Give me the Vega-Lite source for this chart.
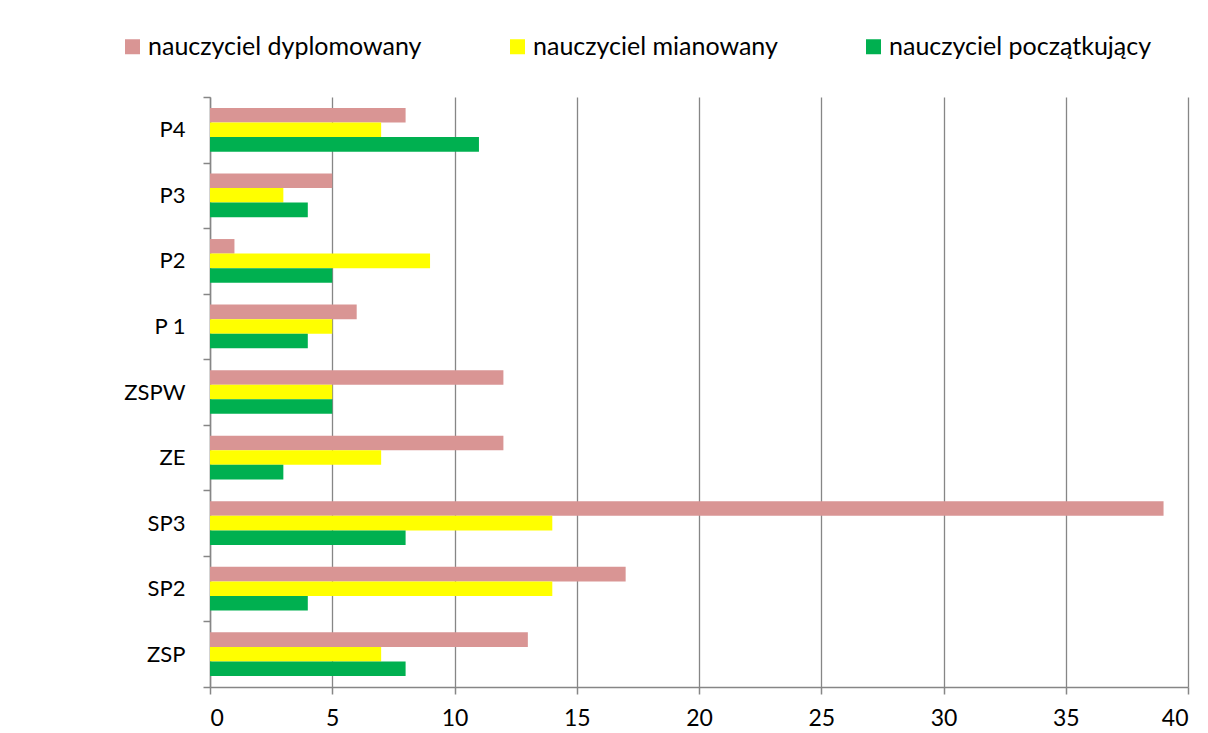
{
  "$schema": "https://vega.github.io/schema/vega-lite/v6.json",
  "autosize": "none",
  "width": 978,
  "height": 590,
  "padding": {"left": 210, "top": 97, "right": 20, "bottom": 46},
  "background": "white",
  "data": {
    "values": [
      {"school": "P4", "type": "nauczyciel dyplomowany", "value": 8},
      {"school": "P4", "type": "nauczyciel mianowany", "value": 7},
      {"school": "P4", "type": "nauczyciel początkujący", "value": 11},
      {"school": "P3", "type": "nauczyciel dyplomowany", "value": 5},
      {"school": "P3", "type": "nauczyciel mianowany", "value": 3},
      {"school": "P3", "type": "nauczyciel początkujący", "value": 4},
      {"school": "P2", "type": "nauczyciel dyplomowany", "value": 1},
      {"school": "P2", "type": "nauczyciel mianowany", "value": 9},
      {"school": "P2", "type": "nauczyciel początkujący", "value": 5},
      {"school": "P 1", "type": "nauczyciel dyplomowany", "value": 6},
      {"school": "P 1", "type": "nauczyciel mianowany", "value": 5},
      {"school": "P 1", "type": "nauczyciel początkujący", "value": 4},
      {"school": "ZSPW", "type": "nauczyciel dyplomowany", "value": 12},
      {"school": "ZSPW", "type": "nauczyciel mianowany", "value": 5},
      {"school": "ZSPW", "type": "nauczyciel początkujący", "value": 5},
      {"school": "ZE", "type": "nauczyciel dyplomowany", "value": 12},
      {"school": "ZE", "type": "nauczyciel mianowany", "value": 7},
      {"school": "ZE", "type": "nauczyciel początkujący", "value": 3},
      {"school": "SP3", "type": "nauczyciel dyplomowany", "value": 39},
      {"school": "SP3", "type": "nauczyciel mianowany", "value": 14},
      {"school": "SP3", "type": "nauczyciel początkujący", "value": 8},
      {"school": "SP2", "type": "nauczyciel dyplomowany", "value": 17},
      {"school": "SP2", "type": "nauczyciel mianowany", "value": 14},
      {"school": "SP2", "type": "nauczyciel początkujący", "value": 4},
      {"school": "ZSP", "type": "nauczyciel dyplomowany", "value": 13},
      {"school": "ZSP", "type": "nauczyciel mianowany", "value": 7},
      {"school": "ZSP", "type": "nauczyciel początkujący", "value": 8}
    ]
  },
  "mark": {"type": "bar", "cornerRadius": 0},
  "encoding": {
    "y": {
      "field": "school",
      "type": "nominal",
      "sort": ["P4", "P3", "P2", "P 1", "ZSPW", "ZE", "SP3", "SP2", "ZSP"],
      "scale": {"paddingInner": 0, "paddingOuter": 0},
      "axis": {
        "title": null,
        "tickBand": "extent",
        "tickSize": 7,
        "labelPadding": 18,
        "labelFontSize": 22,
        "grid": false
      }
    },
    "yOffset": {
      "field": "type",
      "type": "nominal",
      "sort": ["nauczyciel dyplomowany", "nauczyciel mianowany", "nauczyciel początkujący"],
      "scale": {"paddingInner": 0, "paddingOuter": 0.75}
    },
    "x": {
      "field": "value",
      "type": "quantitative",
      "scale": {"domain": [0, 40], "nice": false},
      "axis": {
        "title": null,
        "values": [0, 5, 10, 15, 20, 25, 30, 35, 40],
        "grid": true,
        "tickSize": 7,
        "labelPadding": 13,
        "labelFontSize": 23
      }
    },
    "color": {
      "field": "type",
      "type": "nominal",
      "scale": {
        "domain": ["nauczyciel dyplomowany", "nauczyciel mianowany", "nauczyciel początkujący"],
        "range": ["#D99594", "#FFFF00", "#00B050"]
      },
      "legend": {
        "title": null,
        "orient": "none",
        "direction": "horizontal",
        "legendX": -90,
        "legendY": -63,
        "symbolType": "square",
        "symbolSize": 225,
        "symbolStrokeWidth": 0,
        "symbolOpacity": 1,
        "labelFontSize": 25,
        "labelOffset": 3,
        "columnPadding": 83,
        "labelLimit": 400
      }
    }
  },
  "config": {
    "font": "Lato",
    "view": {"stroke": null},
    "axis": {
      "labelFont": "Lato",
      "labelColor": "black",
      "domainColor": "#868686",
      "domainWidth": 1.5,
      "tickColor": "#868686",
      "tickWidth": 1.5,
      "gridColor": "#868686",
      "gridWidth": 1.3,
      "gridOpacity": 1
    },
    "legend": {"labelFont": "Lato", "labelColor": "black"}
  }
}
